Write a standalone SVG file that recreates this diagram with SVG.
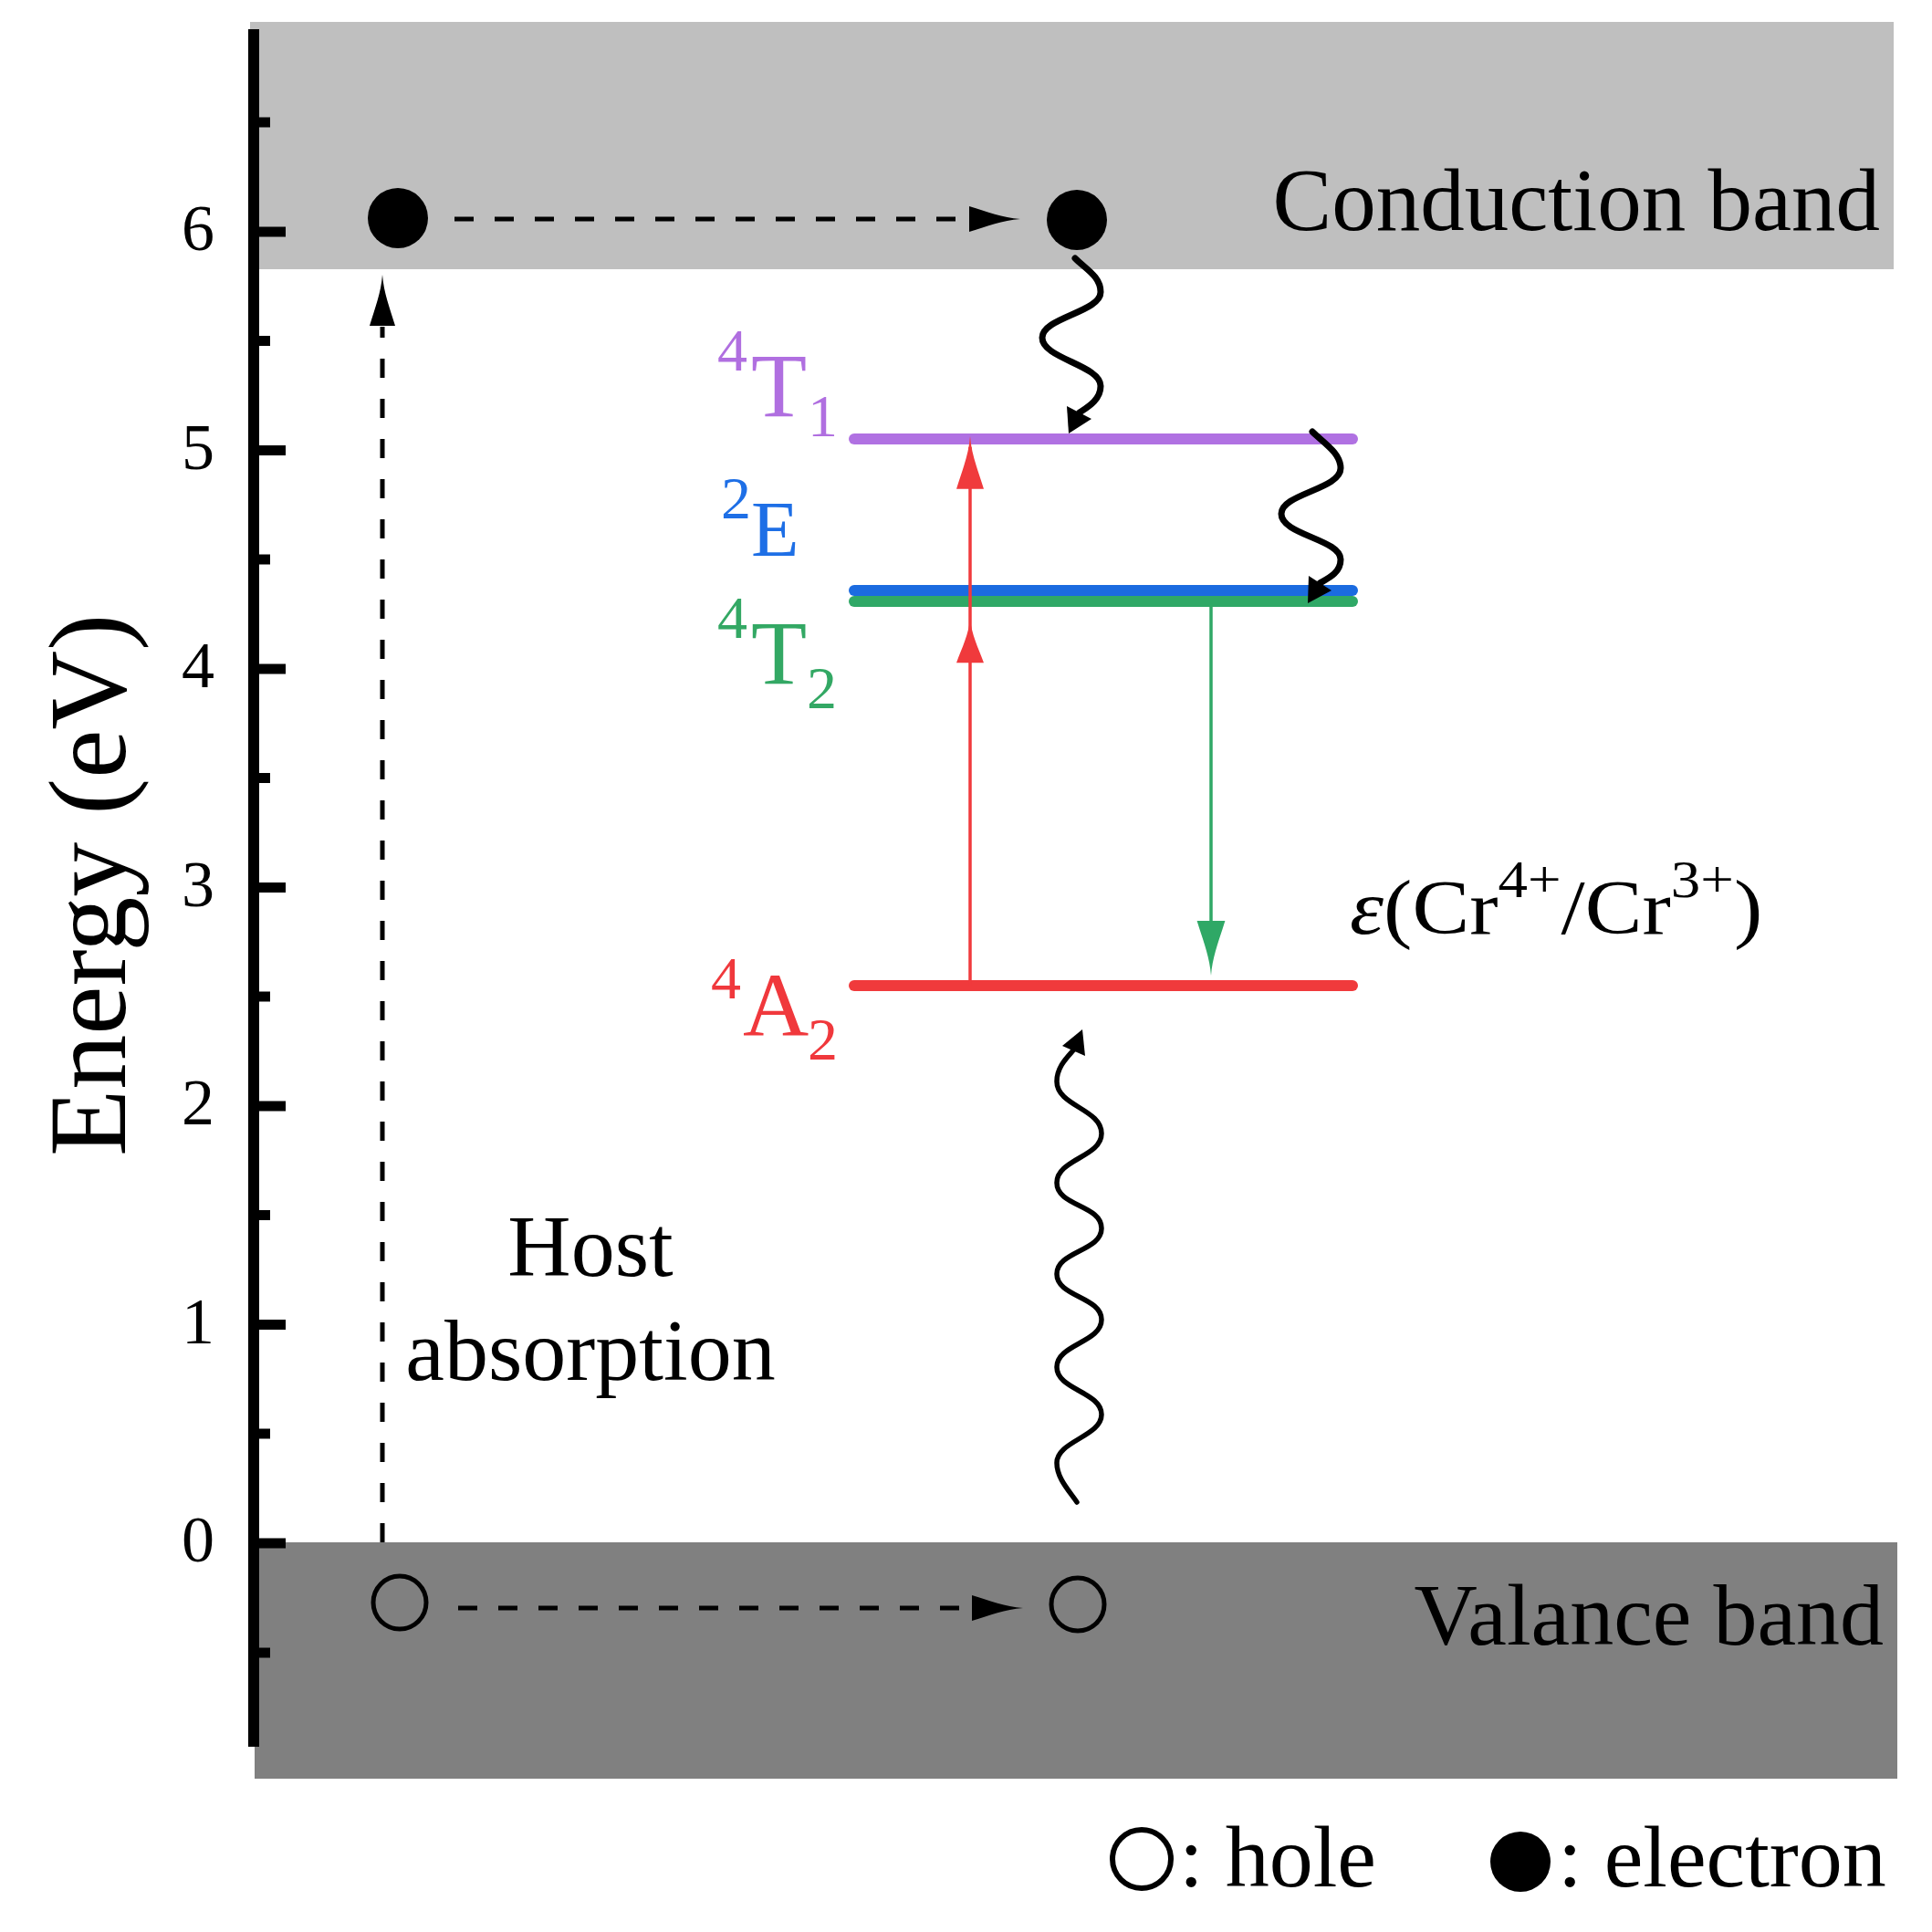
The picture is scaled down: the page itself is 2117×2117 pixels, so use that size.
<svg xmlns="http://www.w3.org/2000/svg" xmlns:xlink="http://www.w3.org/1999/xlink" width="2117" height="2117" viewBox="0 0 2117 2117">
<style>
.t{font-family:"Liberation Serif","Times New Roman",serif;fill:#000}
.tick{font-family:"Liberation Serif","Times New Roman",serif;font-size:72px;text-anchor:middle}
.dash{fill:none;stroke:#000;stroke-width:5;stroke-dasharray:21 23}
.wave{fill:none;stroke:#000;stroke-linecap:round;stroke-linejoin:round}
.lvl{stroke-width:12;stroke-linecap:round}
</style>
<defs>
<path id="ah" d="M0,0 C1.5,20 8,36 14,56 L-14,56 C-8,36 -1.5,20 0,0 Z"/>
</defs>
<g id="bands">
<rect x="274" y="24" width="1801" height="271" fill="#bfbfbf"/>
<rect x="279" y="1690" width="1800" height="259" fill="#808080"/>
</g>
<g id="axis">
<line x1="278" y1="32" x2="278" y2="1914" stroke="#000" stroke-width="12"/>
<g stroke="#000" stroke-width="11">
<line x1="278" y1="254" x2="313" y2="254"/>
<line x1="278" y1="493.5" x2="313" y2="493.5"/>
<line x1="278" y1="733" x2="313" y2="733"/>
<line x1="278" y1="972.5" x2="313" y2="972.5"/>
<line x1="278" y1="1212" x2="313" y2="1212"/>
<line x1="278" y1="1451.5" x2="313" y2="1451.5"/>
<line x1="278" y1="1691" x2="313" y2="1691"/>
<line x1="278" y1="134" x2="296" y2="134"/>
<line x1="278" y1="373.5" x2="296" y2="373.5"/>
<line x1="278" y1="613" x2="296" y2="613"/>
<line x1="278" y1="852.5" x2="296" y2="852.5"/>
<line x1="278" y1="1092" x2="296" y2="1092"/>
<line x1="278" y1="1331.5" x2="296" y2="1331.5"/>
<line x1="278" y1="1571" x2="296" y2="1571"/>
<line x1="278" y1="1811" x2="296" y2="1811"/>
</g>
<text class="tick" x="217" y="274">6</text>
<text class="tick" x="217" y="513.5">5</text>
<text class="tick" x="217" y="753">4</text>
<text class="tick" x="217" y="992.5">3</text>
<text class="tick" x="217" y="1232">2</text>
<text class="tick" x="217" y="1471.5">1</text>
<text class="tick" x="217" y="1711">0</text>
<text class="t" font-size="120" text-anchor="middle" transform="translate(137,970) rotate(-90)">Energy (eV)</text>
</g>
<g id="levels">
<line class="lvl" x1="936" y1="481" x2="1482" y2="481" stroke="#b071e2"/>
<line class="lvl" x1="936" y1="659" x2="1482" y2="659" stroke="#2fa866"/>
<line class="lvl" x1="936" y1="647" x2="1482" y2="647" stroke="#1b6be0"/>
<line class="lvl" x1="936" y1="1080" x2="1482" y2="1080" stroke="#f03a3c"/>
</g>
<g id="particles">
<circle cx="436" cy="239" r="33" fill="#000"/>
<circle cx="1180" cy="241" r="33" fill="#000"/>
<circle cx="438" cy="1756" r="29" fill="none" stroke="#000" stroke-width="5"/>
<circle cx="1181" cy="1758" r="29" fill="none" stroke="#000" stroke-width="5"/>
</g>
<g id="connectors">
<path class="dash" d="M498 240 H1064"/>
<use xlink:href="#ah" transform="translate(1118,240) rotate(90)" fill="#000"/>
<path class="dash" d="M502 1762 H1066"/>
<use xlink:href="#ah" transform="translate(1121,1762) rotate(90)" fill="#000"/>
<path class="dash" d="M419 1690 V358"/>
<use xlink:href="#ah" transform="translate(419,301)" fill="#000"/>
<line x1="1063" y1="1080" x2="1063" y2="490" stroke="#f03a3c" stroke-width="3.5"/>
<use xlink:href="#ah" transform="translate(1063,478) scale(1.07,1.03)" fill="#f03a3c"/>
<use xlink:href="#ah" transform="translate(1063,678) scale(1.07,0.86)" fill="#f03a3c"/>
<line x1="1327" y1="665" x2="1327" y2="1050" stroke="#2fa866" stroke-width="3.5"/>
<use xlink:href="#ah" transform="translate(1327,1069) rotate(180) scale(1.1,1.07)" fill="#2fa866"/>
<path class="wave" stroke-width="7" d="M1178 283 C1190 295 1206 303 1206 320 C1206 342 1142 348 1142 370 C1142 393 1206 400 1206 423 C1206 438 1192 446 1183 452"/>
<polygon points="1171,475 1169,445 1196,459" fill="#000"/>
<path class="wave" stroke-width="7" d="M1438 473 C1450 485 1469 496 1469 513 C1469 536 1404 541 1404 563 C1404 586 1469 591 1469 613 C1469 628 1455 634 1446 639"/>
<polygon points="1433,661 1434,631 1459,647" fill="#000"/>
<path class="wave" stroke-width="5.5" d="M1180 1646 C1172 1634 1158 1620 1158 1603 C1158 1579 1207 1574 1207 1550 C1207 1525 1158 1523 1158 1498 C1158 1473 1207 1471 1207 1446 C1207 1421 1158 1421 1158 1396 C1158 1371 1207 1371 1207 1346 C1207 1320 1158 1322 1158 1296 C1158 1270 1207 1268 1207 1242 C1207 1215 1158 1212 1158 1185 C1158 1170 1168 1160 1176 1151"/>
<polygon points="1186,1128 1164,1146 1189,1157" fill="#000"/>
</g>
<g id="labels" class="t">
<text font-size="100" fill="#b06fe0"><tspan x="786" y="406" font-size="66">4</tspan><tspan x="823" y="456">T</tspan><tspan x="885" y="478" font-size="66">1</tspan></text>
<text font-size="86" fill="#1e6fe6"><tspan x="790" y="568" font-size="66">2</tspan><tspan x="823" y="609">E</tspan></text>
<text font-size="100" fill="#33a864"><tspan x="786" y="699" font-size="66">4</tspan><tspan x="823" y="749">T</tspan><tspan x="884" y="776" font-size="66">2</tspan></text>
<text font-size="100" fill="#f0383c"><tspan x="779" y="1094" font-size="66">4</tspan><tspan x="814" y="1135">A</tspan><tspan x="885" y="1161" font-size="66">2</tspan></text>
<text class="t" font-size="84" transform="translate(1479,1023) scale(1.12,1)"><tspan font-style="italic">ε</tspan>(Cr<tspan font-size="58" dy="-40">4+</tspan><tspan dy="40">/Cr</tspan><tspan font-size="58" dy="-40">3+</tspan><tspan dy="40">)</tspan></text>
<text class="t" font-size="97" x="2060" y="252" text-anchor="end">Conduction band</text>
<text class="t" font-size="96" x="2064" y="1802" text-anchor="end">Valance band</text>
<text class="t" font-size="96" x="647" y="1398" text-anchor="middle">Host</text>
<text class="t" font-size="96" x="647" y="1512" text-anchor="middle">absorption</text>
</g>
<g id="legend">
<circle cx="1251" cy="2037" r="32" fill="none" stroke="#000" stroke-width="6"/>
<text class="t" font-size="96" x="1292" y="2067">: hole</text>
<circle cx="1666" cy="2040" r="33" fill="#000"/>
<text class="t" font-size="96" x="1707" y="2067">: electron</text>
</g>
</svg>
